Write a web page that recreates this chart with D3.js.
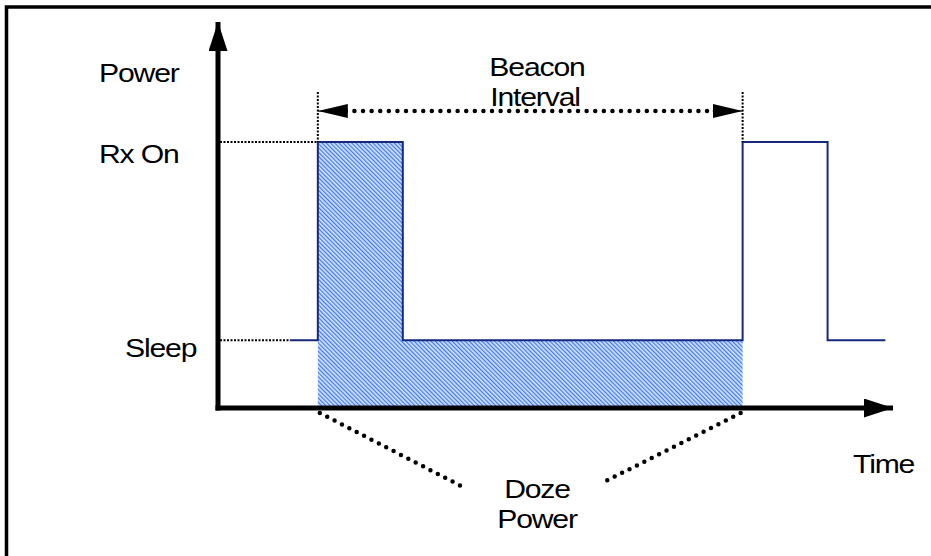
<!DOCTYPE html>
<html>
<head>
<meta charset="utf-8">
<script src="https://cdn.jsdelivr.net/npm/d3@7"></script>
<style>
  body { margin: 0; background: #fff; }
  text { font-family: "Liberation Sans", Arial, sans-serif; font-size: 26px; fill: #000; letter-spacing: -1px; }
</style>
</head>
<body>
<div id="container"></div>
<script>
const width = 931;
const height = 556;

// Power levels (arbitrary units, Rx On = 100)
const levelNames = ["Sleep", "Rx On"];
const levelValues = [25.5, 100];

// Time in % of a beacon interval
const signalTimes = [-6.6, 0, 20, 100, 120, 133.6];
const signalLevels = [25.5, 100, 25.5, 100, 25.5, 25.5];
const beaconStart = 0;
const beaconEnd = 100;

// scales
const x = d3.scaleLinear().domain([-23.5, 135.4]).range([218, 893]);
const y = d3.scaleLinear().domain([0, 100]).range([408, 142]);

const svg = d3.select("#container")
  .append("svg")
  .attr("width", width)
  .attr("height", height);

// hatch for the doze region
const defs = svg.append("defs");
const pat = defs.append("pattern")
  .attr("id", "hatch")
  .attr("patternUnits", "userSpaceOnUse")
  .attr("width", 3)
  .attr("height", 3)
  .attr("patternTransform", "rotate(-45)");
pat.append("rect").attr("width", 3).attr("height", 3).attr("fill", "#d2e1fd");
pat.append("rect").attr("width", 1.2).attr("height", 3).attr("fill", "#3d78f0");

function arrowHead(id, w, h) {
  defs.append("marker")
    .attr("id", id)
    .attr("viewBox", `0 0 ${w} ${h}`)
    .attr("refX", w).attr("refY", h / 2)
    .attr("markerWidth", w).attr("markerHeight", h)
    .attr("markerUnits", "userSpaceOnUse")
    .attr("orient", "auto-start-reverse")
    .append("path")
    .attr("d", `M0,0L${w},${h / 2}L0,${h}Z`)
    .attr("fill", "#000");
}
arrowHead("axisArrow", 29, 19);
arrowHead("dimArrow", 30, 14);

// frame (left + top)
svg.append("path")
  .attr("d", "M6.5,556V7H931")
  .attr("fill", "none")
  .attr("stroke", "#000")
  .attr("stroke-width", 3.5);

// shaded doze area: from beacon start to next beacon
const pts = signalTimes.map((t, i) => ({ t: t, p: signalLevels[i] }));
const inBeacon = pts.filter(d => d.t >= beaconStart && d.t <= beaconEnd);
const area = d3.area()
  .curve(d3.curveStepAfter)
  .x(d => x(d.t))
  .y0(y(0))
  .y1(d => y(d.p));
svg.append("path")
  .datum(inBeacon.map((d, i) => i === inBeacon.length - 1 ? { t: d.t, p: inBeacon[i - 1].p } : d))
  .attr("d", area)
  .attr("fill", "url(#hatch)");

// signal
const line = d3.line()
  .curve(d3.curveStepAfter)
  .x(d => x(d.t))
  .y(d => y(d.p));
svg.append("path")
  .datum(pts)
  .attr("d", line)
  .attr("fill", "none")
  .attr("stroke", "#14287f")
  .attr("stroke-width", 2);

// guide lines to the axis
const guideEnds = [signalTimes[0], beaconStart];
levelValues.forEach((v, i) => {
  svg.append("line")
    .attr("x1", x.range()[0] + 2).attr("x2", x(guideEnds[i]))
    .attr("y1", y(v)).attr("y2", y(v))
    .attr("stroke", "#000").attr("stroke-width", 2)
    .attr("stroke-dasharray", "2,1.5");
});
[beaconStart, beaconEnd].forEach(t => {
  svg.append("line")
    .attr("x1", x(t)).attr("x2", x(t))
    .attr("y1", 92).attr("y2", y(100))
    .attr("stroke", "#000").attr("stroke-width", 2)
    .attr("stroke-dasharray", "2,1.5");
});

// beacon interval dimension
svg.append("line")
  .attr("x1", x(beaconStart) + 28).attr("x2", x(beaconEnd) - 28)
  .attr("y1", 111).attr("y2", 111)
  .attr("stroke", "#000").attr("stroke-width", 4.5)
  .attr("stroke-linecap", "round")
  .attr("stroke-dasharray", "0,8.6");
svg.append("line")
  .attr("x1", x(beaconStart) + 30).attr("x2", x(beaconStart))
  .attr("y1", 111).attr("y2", 111)
  .attr("stroke", "#000").attr("stroke-width", 1)
  .attr("marker-end", "url(#dimArrow)");
svg.append("line")
  .attr("x1", x(beaconEnd) - 30).attr("x2", x(beaconEnd))
  .attr("y1", 111).attr("y2", 111)
  .attr("stroke", "#000").attr("stroke-width", 1)
  .attr("marker-end", "url(#dimArrow)");

// axes
svg.append("line")
  .attr("x1", x.range()[0]).attr("x2", x.range()[0])
  .attr("y1", y(0) + 2.5).attr("y2", 22)
  .attr("stroke", "#000").attr("stroke-width", 5)
  .attr("marker-end", "url(#axisArrow)");
svg.append("line")
  .attr("x1", x.range()[0] - 2.5).attr("x2", x.range()[1])
  .attr("y1", y(0)).attr("y2", y(0))
  .attr("stroke", "#000").attr("stroke-width", 5)
  .attr("marker-end", "url(#axisArrow)");

// callout dots for doze power
const callouts = [
  { from: beaconStart, to: [465, 488] },
  { from: beaconEnd, to: [604, 482] }
];
callouts.forEach(c => {
  svg.append("line")
    .attr("x1", x(c.from) + (c.from === beaconStart ? 2 : -2)).attr("y1", y(0) + 5)
    .attr("x2", c.to[0]).attr("y2", c.to[1])
    .attr("stroke", "#000").attr("stroke-width", 4.5)
    .attr("stroke-linecap", "round")
    .attr("stroke-dasharray", "0,8.3");
});

// labels
function label(txt, cx, base, anchor) {
  svg.append("text")
    .attr("transform", `translate(${cx},${base}) scale(1.16,1)`)
    .attr("text-anchor", anchor)
    .text(txt);
}
label("Power", 99, 82, "start");
label(levelNames[1], 99, 163, "start");
label(levelNames[0], 125, 357, "start");
label("Beacon", 537, 76, "middle");
label("Interval", 535, 106, "middle");
label("Time", 853, 473, "start");
label("Doze", 537, 498, "middle");
label("Power", 537, 528, "middle");
</script>
</body>
</html>
